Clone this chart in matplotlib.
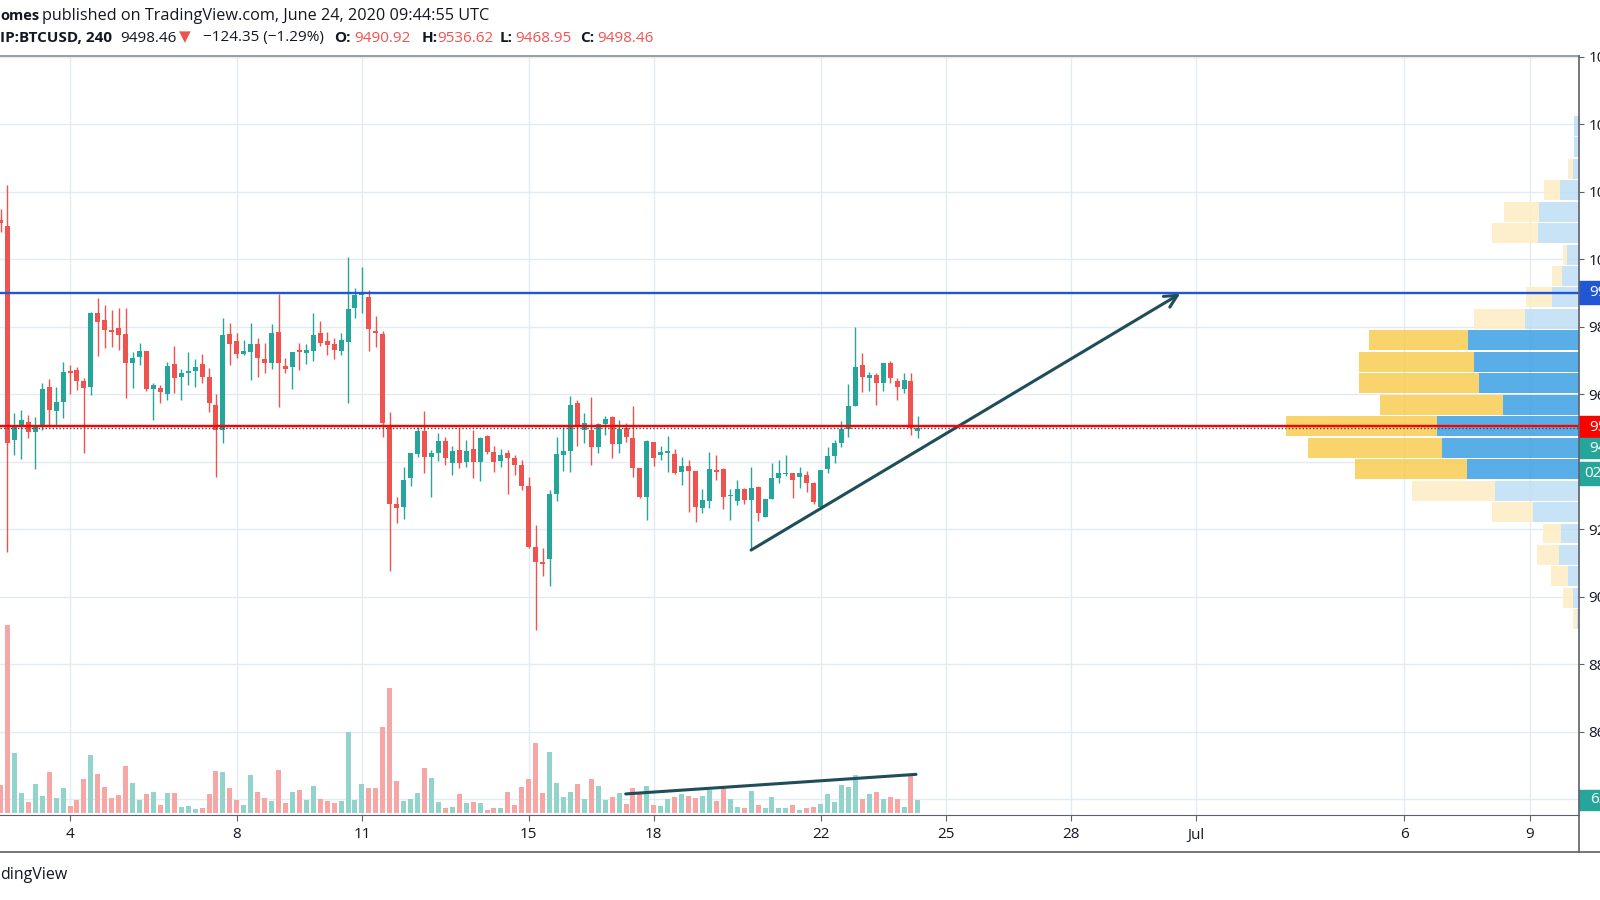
import numpy as np
import pandas as pd
import matplotlib
matplotlib.use('Agg')
from matplotlib import pyplot as plt
from matplotlib import transforms as mtransforms
from matplotlib.patches import Rectangle
from matplotlib.lines import Line2D

plt.rcParams['font.family'] = ['Open Sans', 'DejaVu Sans']

# BITSTAMP:BTCUSD 4h bars, first (partly hidden) bar opens 2 June 2020 08:00 UTC
first_bar = '2020-06-02 08:00'

opens = [10116, 10098, 9464, 9508, 9518, 9489, 9504, 9620, 9551, 9576,
         9669, 9671, 9640, 9622, 9841, 9820, 9788, 9795, 9777, 9693,
         9711, 9728, 9614, 9617, 9600, 9689, 9650, 9662, 9669, 9689,
         9652, 9567, 9494, 9777, 9757, 9719, 9726, 9749, 9704, 9691,
         9783, 9684, 9681, 9730, 9721, 9729, 9780, 9757, 9749, 9728,
         9755, 9856, 9893, 9889, 9788, 9777, 9504, 9274, 9265, 9353,
         9423, 9491, 9415, 9427, 9462, 9397, 9435, 9399, 9438, 9398,
         9476, 9430, 9402, 9427, 9410, 9390, 9328, 9148, 9102, 9111,
         9303, 9420, 9433, 9575, 9494, 9494, 9442, 9511, 9531, 9452,
         9499, 9469, 9380, 9294, 9459, 9420, 9427, 9423, 9370, 9387,
         9373, 9262, 9282, 9375, 9377, 9297, 9284, 9318, 9286, 9324,
         9237, 9288, 9351, 9362, 9367, 9354, 9361, 9338, 9267, 9377,
         9417, 9454, 9496, 9565, 9686, 9647, 9657, 9632, 9691, 9639,
         9614, 9639, 9490.92]
highs = [10150, 10220, 9543, 9553, 9538, 9533, 9634, 9644, 9620, 9696,
         9686, 9679, 9649, 9844, 9884, 9864, 9849, 9854, 9854, 9726,
         9752, 9728, 9632, 9627, 9696, 9743, 9674, 9726, 9704, 9718,
         9677, 9600, 9827, 9812, 9782, 9760, 9812, 9765, 9753, 9808,
         9897, 9706, 9724, 9751, 9749, 9841, 9817, 9785, 9765, 9780,
         10007, 9914, 9978, 9909, 9832, 9787, 9548, 9296, 9385, 9427,
         9504, 9551, 9435, 9486, 9472, 9446, 9499, 9464, 9494, 9474,
         9479, 9445, 9437, 9435, 9420, 9405, 9356, 9212, 9143, 9316,
         9474, 9504, 9595, 9583, 9545, 9593, 9514, 9536, 9536, 9523,
         9514, 9565, 9382, 9464, 9459, 9445, 9476, 9437, 9413, 9405,
         9373, 9318, 9430, 9420, 9380, 9318, 9346, 9321, 9385, 9328,
         9288, 9397, 9405, 9420, 9367, 9383, 9373, 9341, 9375, 9444,
         9464, 9519, 9630, 9798, 9723, 9667, 9662, 9693, 9698, 9647,
         9664, 9662, 9536.62]
lows = [10081, 9133, 9419, 9407, 9469, 9377, 9494, 9504, 9508, 9528,
        9600, 9612, 9426, 9598, 9713, 9736, 9741, 9731, 9590, 9617,
        9686, 9610, 9523, 9573, 9583, 9604, 9583, 9627, 9622, 9632,
        9548, 9355, 9454, 9686, 9706, 9716, 9642, 9650, 9664, 9674,
        9563, 9664, 9614, 9672, 9688, 9699, 9743, 9716, 9703, 9716,
        9575, 9825, 9841, 9729, 9741, 9474, 9077, 9217, 9229, 9328,
        9415, 9367, 9296, 9402, 9390, 9359, 9380, 9385, 9353, 9343,
        9423, 9368, 9383, 9303, 9361, 9316, 9145, 8901, 9061, 9032,
        9282, 9373, 9370, 9447, 9454, 9390, 9425, 9479, 9412, 9425,
        9459, 9356, 9291, 9227, 9387, 9405, 9370, 9364, 9331, 9252,
        9222, 9247, 9262, 9346, 9259, 9227, 9272, 9274, 9138, 9225,
        9235, 9288, 9338, 9358, 9291, 9321, 9311, 9275, 9262, 9365,
        9397, 9444, 9474, 9565, 9605, 9610, 9568, 9610, 9634, 9583,
        9604, 9479, 9468.95]
closes = [10106, 9456, 9508, 9523, 9489, 9504, 9614, 9553, 9576, 9667,
          9664, 9640, 9617, 9840, 9815, 9790, 9785, 9775, 9693, 9706,
          9729, 9615, 9627, 9605, 9683, 9647, 9662, 9669, 9681, 9650,
          9573, 9494, 9775, 9748, 9719, 9728, 9749, 9706, 9693, 9780,
          9691, 9676, 9724, 9726, 9731, 9774, 9753, 9746, 9731, 9760,
          9851, 9894, 9897, 9793, 9780, 9514, 9276, 9262, 9346, 9425,
          9491, 9415, 9427, 9461, 9410, 9433, 9397, 9433, 9400, 9471,
          9430, 9399, 9420, 9410, 9390, 9328, 9148, 9104, 9097, 9303,
          9422, 9433, 9568, 9504, 9514, 9442, 9511, 9526, 9452, 9496,
          9472, 9380, 9294, 9461, 9412, 9430, 9432, 9366, 9387, 9373,
          9267, 9287, 9377, 9370, 9294, 9301, 9318, 9287, 9321, 9249,
          9288, 9353, 9367, 9366, 9346, 9367, 9336, 9279, 9375, 9417,
          9454, 9496, 9565, 9680, 9652, 9657, 9634, 9691, 9647, 9620,
          9642, 9499, 9498.46]
volumes = [133, 885, 285, 94, 55, 138, 81, 193, 74, 118,
           34, 63, 160, 274, 185, 125, 71, 86, 224, 144,
           63, 89, 102, 39, 97, 94, 31, 34, 19, 24,
           89, 199, 193, 121, 63, 39, 180, 102, 71, 58,
           204, 50, 102, 110, 63, 128, 67, 58, 47, 58,
           381, 63, 136, 121, 118, 407, 588, 154, 58, 67,
           97, 215, 165, 55, 24, 28, 89, 50, 55, 47,
           16, 27, 27, 102, 39, 125, 160, 332, 94, 290,
           144, 78, 99, 138, 66, 160, 128, 63, 75, 94,
           44, 121, 91, 130, 39, 34, 67, 75, 91, 83,
           71, 83, 110, 58, 118, 66, 28, 27, 107, 39,
           24, 78, 24, 24, 38, 14, 24, 31, 44, 91,
           52, 133, 122, 180, 66, 91, 99, 66, 75, 67,
           28, 180, 63]

# visible range volume profile, rows from 8901 up to 10427
profile_low, profile_high = 8901, 10427
profile_up = [2.3, 5.7, 11.3, 20, 18.3, 45.7, 84, 111.7, 137.3, 141.7, 76.3, 100,
              104.7, 111.3, 53.7, 27.3, 17.3, 11.7, 40.7, 39.7, 19, 5.7, 4.7, 4.7]
profile_down = [4, 10, 16.7, 22.3, 18, 41.6, 82.7, 112.3, 133.4, 151.3, 122.7, 120,
                115, 98.7, 51.3, 26, 10, 4.6, 46.6, 35.3, 16, 5.6, 0, 0]
value_area = (7, 13)

# drawings
resistance = 9900
support = 9505
last_price = 9498.46
arrow_from = ('2020-06-20 08:00', 9138)
arrow_to = ('2020-06-30 15:00', 9898)
vol_trend = [('2020-06-17 07:50', 91), ('2020-06-24 06:55', 183)]

tick_days = [4, 8, 11, 15, 18, 22, 25, 28, 31, 36, 39]
tick_labels = ['4', '8', '11', '15', '18', '22', '25', '28', 'Jul', '6', '9']
price_ticks = np.arange(8400, 10601, 200)
hidden_prices = [8400, 9400]   # sit under the price tags

GREEN = '#26a69a'
RED = '#ef5350'
TREND = '#1f4e5a'
BLUE = '#2157d3'
AXIS = '#5d606b'
TEXT = '#131722'
GRID = '#e3ebf2'


def june_day(t):
    return (pd.Timestamp(t) - pd.Timestamp('2020-06-01')) / pd.Timedelta(days=1) + 1


bars = pd.date_range(first_bar, periods=len(opens), freq='4h')
day = np.array([june_day(t) for t in bars])
o = np.array(opens)
h = np.array(highs)
l = np.array(lows)
c = np.array(closes)
up = c >= o
col = np.where(up, GREEN, RED)
vol_col = np.where(up, '#92d3cb', '#f6a7a5')

W, H = 1600, 900
fig = plt.figure(figsize=(16, 9), dpi=100)
rect = [0, 1 - 815 / H, 1579 / W, (815 - 56) / H]

ax = fig.add_axes(rect)
ax_v = fig.add_axes(rect)
ax_p = fig.add_axes(rect)
for a in (ax_v, ax_p):
    a.set_axis_off()
    a.patch.set_visible(False)

ax.set_xlim(2.321, 40.187)
ax.set_ylim(8353, 10602)
ax.set_xticks(tick_days)
ax.set_xticklabels(tick_labels)
ax.set_yticks(price_ticks)
ax.set_yticklabels(['' if v in hidden_prices else '%.2f' % v for v in price_ticks])
ax.yaxis.tick_right()
ax.grid(True, color=GRID, lw=1)
ax.set_axisbelow(True)
ax.tick_params(axis='x', length=4, color=AXIS, pad=5, labelsize=11, labelcolor=TEXT)
ax.tick_params(axis='y', length=3.4, color=AXIS, pad=3.6, labelsize=11, labelcolor=TEXT)
for s in ('top', 'left', 'right'):
    ax.spines[s].set_visible(False)
ax.spines['bottom'].set_color(AXIS)

# candles
ax.vlines(day, l, h, colors=col, lw=1.0, zorder=2)
body_h = np.maximum(np.abs(c - o), 5)
ax.bar(day, body_h, bottom=np.minimum(o, c), width=0.12, color=col, zorder=3)

ax.annotate('', xy=(june_day(arrow_to[0]), arrow_to[1]),
            xytext=(june_day(arrow_from[0]), arrow_from[1]),
            arrowprops=dict(arrowstyle='->,head_length=0.9,head_width=0.45',
                            color=TREND, lw=2.2, shrinkA=0, shrinkB=0))

# volume
ax_v.set_xlim(ax.get_xlim())
ax_v.set_ylim(-8, 3559)
ax_v.bar(day, volumes, width=0.12, color=vol_col)
ax_v.plot([june_day(t) for t, _ in vol_trend], [v for _, v in vol_trend],
          color=TREND, lw=2.2, solid_capstyle='round')

# volume profile on the right edge
n_rows = len(profile_up)
edges = np.linspace(profile_low, profile_high, n_rows + 1)
step = edges[1] - edges[0]
centers = edges[:-1] + step / 2
in_va = [value_area[0] <= i <= value_area[1] for i in range(n_rows)]
up_cols = ['#3da0e4' if v else '#bedef4' for v in in_va]
down_cols = ['#f8cc52' if v else '#fdedc3' for v in in_va]
ax_p.set_xlim(1579, 0)
ax_p.set_ylim(ax.get_ylim())
ax_p.barh(centers, profile_up, height=step * 0.93, left=0, color=up_cols, alpha=0.85)
ax_p.barh(centers, profile_down, height=step * 0.93, left=profile_up, color=down_cols, alpha=0.85)

ax_p.axhline(resistance, color=BLUE, lw=1.7)
ax_p.axhline(support, color='#ff0000', lw=1.7)
ax_p.axhline(last_price, color='#4a4a4a', lw=1, ls=(0, (1, 1.5)))


def price_tag(axis, value, height, text, color, tx=0.0068):
    tr = mtransforms.blended_transform_factory(ax.transAxes, axis.transData)
    ax_p.add_patch(Rectangle((1.0, value - height / 2), 0.03, height, transform=tr,
                             color=color, clip_on=False, zorder=5))
    ax_p.text(1.0 + tx, value, text, transform=tr, color='white', va='center', ha='left',
              fontsize=11, clip_on=False, zorder=6)


price_tag(ax, resistance, 68, '9900.00', BLUE)
price_tag(ax, 9502, 65, '9505.00', '#ff0000')
price_tag(ax, 9440, 60, '9498.46', GREEN)
price_tag(ax, 9366, 68, '02:15:05', GREEN, tx=0.0035)
price_tag(ax_v, 62.5, 94, '62.501', GREEN)

# frame lines
lc = dict(transform=fig.transFigure, lw=1.2)
fig.add_artist(Line2D([0, 1579 / W], [1 - 56 / H] * 2, color='#8a8d96', **lc))
fig.add_artist(Line2D([1579 / W] * 2, [1 - 56 / H, 1 - 852 / H], color=AXIS, **lc))
fig.add_artist(Line2D([0, 1], [1 - 852 / H] * 2, color=AXIS, **lc))

# header
y1, y2 = 1 - 15.5 / H, 1 - 38 / H
fig.text(0, y1, 'omes', fontsize=10.5, fontweight='bold', color=TEXT, va='center')
fig.text(42 / W, y1, 'published on TradingView.com, June 24, 2020 09:44:55 UTC',
         fontsize=11.7, color=TEXT, va='center')
parts = [(0, 'IP:BTCUSD, 240', TEXT, 'bold'), (120.5, '9498.46', TEXT, 'normal'),
         (179, '\u25bc', RED, 'normal'), (203, '\u2212124.35 (\u22121.29%)', TEXT, 'normal'),
         (334, 'O:', TEXT, 'bold'), (354, '9490.92', RED, 'normal'),
         (422, 'H:', TEXT, 'bold'), (437.5, '9536.62', RED, 'normal'),
         (500, 'L:', TEXT, 'bold'), (515.6, '9468.95', RED, 'normal'),
         (580, 'C:', TEXT, 'bold'), (597, '9498.46', RED, 'normal')]
for px, s, cl, wt in parts:
    fig.text(px / W, y2, s, fontsize=11, color=cl, fontweight=wt, va='center')

fig.text(0, 1 - 875 / H, 'dingView', fontsize=11.5, color=TEXT, va='center')

fig.savefig('out.png', dpi=100)
